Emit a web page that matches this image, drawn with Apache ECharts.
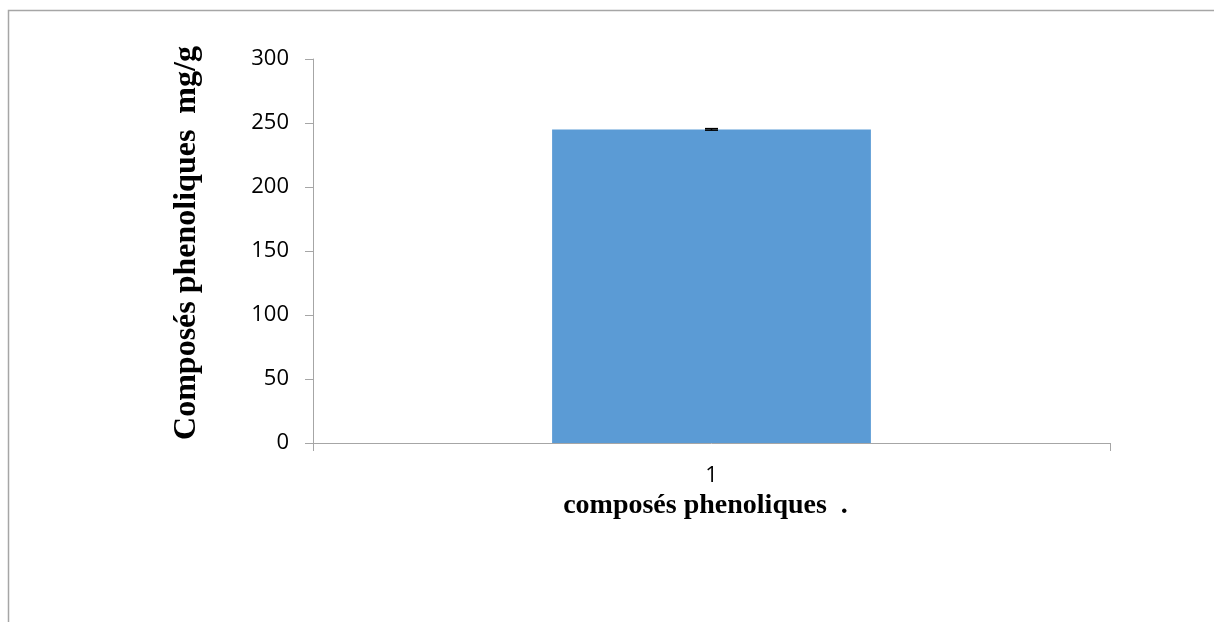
<!DOCTYPE html>
<html>
<head>
<meta charset="utf-8">
<script src="https://cdn.jsdelivr.net/npm/echarts@6/dist/echarts.min.js"></script>
<style>html,body{margin:0;padding:0;background:#fff}#c{width:1214px;height:622px}</style>
</head>
<body>
<div id="c"></div>
<script>
const categories = ['1'];
const values = [245];
const errors = [0.6];
const yTicks = [0, 50, 100, 150, 200, 250, 300];

const chart = echarts.init(document.getElementById('c'));
chart.setOption({
  animation: false,
  graphic: [{
    type: 'rect', silent: true,
    shape: { x: 8.5, y: 10.5, width: 1400, height: 800 },
    style: { fill: 'none', stroke: '#a6a6a6', lineWidth: 1.5 }
  }],
  grid: { left: 313, right: 104, top: 59, bottom: 179 },
  xAxis: {
    type: 'category', data: categories,
    name: 'composés phenoliques  .', nameLocation: 'middle', nameGap: 45,
    nameTextStyle: { fontFamily: 'Liberation Serif', fontWeight: 'bold', fontSize: 28, color: '#000', padding: [0, 12, 0, 0] },
    axisLine: { lineStyle: { color: '#a6a6a6', width: 1 } },
    axisTick: { show: true, length: 8, lineStyle: { color: '#a6a6a6' } },
    axisLabel: { fontFamily: 'Open Sans', fontSize: 22, color: '#000', margin: 22 }
  },
  yAxis: {
    type: 'value', min: yTicks[0], max: yTicks[yTicks.length - 1], interval: 50,
    name: 'Composés phenoliques  mg/g', nameLocation: 'middle', nameGap: 110,
    nameTextStyle: { fontFamily: 'Liberation Serif', fontWeight: 'bold', fontSize: 32, color: '#000', padding: [0, 0, 0, 16] },
    axisLine: { show: true, lineStyle: { color: '#a6a6a6', width: 1 } },
    axisTick: { show: true, length: 8, lineStyle: { color: '#a6a6a6' } },
    splitLine: { show: false },
    axisLabel: { fontFamily: 'Open Sans', fontSize: 22, color: '#000', margin: 24 }
  },
  series: [{
    type: 'bar', data: values, barWidth: '40%',
    itemStyle: { color: '#5b9bd5' }
  }, {
    type: 'custom', z: 10,
    data: values.map((v, i) => [i, v - errors[i], v + errors[i]]),
    renderItem: function (params, api) {
      const lo = api.coord([api.value(0), api.value(1)]);
      const hi = api.coord([api.value(0), api.value(2)]);
      const hw = 6.5;
      const st = { stroke: '#000', lineWidth: 1.5 };
      return { type: 'group', children: [
        { type: 'line', shape: { x1: hi[0], y1: hi[1], x2: lo[0], y2: lo[1] }, style: st },
        { type: 'line', shape: { x1: hi[0] - hw, y1: hi[1], x2: hi[0] + hw, y2: hi[1] }, style: st },
        { type: 'line', shape: { x1: lo[0] - hw, y1: lo[1], x2: lo[0] + hw, y2: lo[1] }, style: st }
      ]};
    }
  }]
});
</script>
</body>
</html>
